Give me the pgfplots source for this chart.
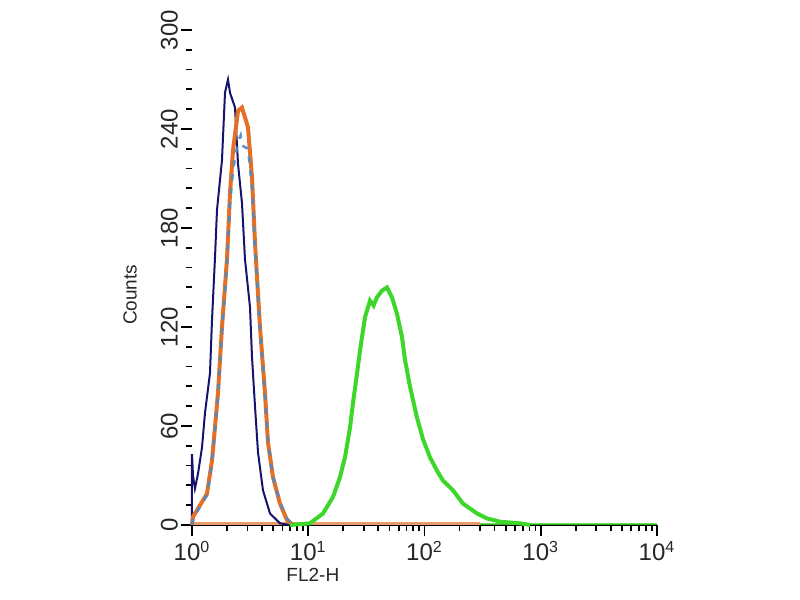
\documentclass[border=0pt]{standalone}
\usepackage{pgfplots}
\pgfplotsset{compat=1.18}
\usepackage{fontspec}
\setmainfont{Liberation Sans}
\definecolor{navyc}{RGB}{20,20,110}
\definecolor{orangec}{RGB}{228,112,40}
\definecolor{bluec}{RGB}{70,140,200}
\definecolor{greenc}{RGB}{60,215,40}
\begin{document}
\begin{tikzpicture}
\path[use as bounding box] (-96pt,-37.5pt) rectangle (304pt,262.5pt);
\begin{axis}[
  at={(0pt,0pt)}, anchor=origin,
  scale only axis, width=232.5pt, height=247.5pt,
  xmode=log, xmin=1, xmax=10000, ymin=0, ymax=300,
  axis x line*=bottom, axis y line*=left,
  axis line style={-, line width=0.9pt},
  y axis line style={draw=none},
  tick align=outside,
  major tick length=5.5pt, minor tick length=3pt,
  every tick/.style={black, line width=0.9pt},
  xtick={1,10,100,1000,10000},
  xticklabels={10\textsuperscript{0},10\textsuperscript{1},10\textsuperscript{2},10\textsuperscript{3},10\textsuperscript{4}},
  ytick={0,60,120,180,240,300},
  yticklabels={0,60,120,180,240,300},
  minor y tick num=4,
  tick label style={font=\fontsize{12}{14}\selectfont, text=black!85},
  yticklabel style={rotate=90, anchor=south},
  yticklabel shift=-2pt,
  xticklabel style={yshift=1pt},
  xlabel={FL2-H}, ylabel={Counts},
  label style={font=\fontsize{9.5}{12}\selectfont, text=black!85},
  xlabel style={at={(axis description cs:0.26,-0.101)}, anchor=center},
  ylabel style={at={(axis description cs:-0.133,0.465)}, anchor=center},
  clip=false,
]
% green baseline
\addplot[greenc, line width=1.3pt, opacity=0.8] coordinates {(1,0.6) (10000,0.6)};
% orange baseline
\addplot[orangec!70, line width=1.2pt] coordinates {(1,0.8) (300,0.8)};
% navy
\addplot[navyc, line width=1.0pt] coordinates {
(1.0,0) (1.0,43) (1.02,30) (1.06,22) (1.126,31) (1.219,47) (1.294,68) (1.428,92)
(1.486,124) (1.577,162) (1.641,191) (1.811,221) (1.923,262) (2.04,270) (2.123,262)
(2.344,253) (2.487,219) (2.692,195) (2.857,161) (3.155,132) (3.281,102) (3.483,72)
(3.697,44) (4.08,21) (4.69,7) (5.71,1) (6.97,0)};
% orange
\addplot[orangec, line width=2.0pt] coordinates {
(1,0) (1.02,5) (1.346,19) (1.486,39) (1.674,80) (1.811,120) (2.0,161) (2.123,201)
(2.253,227) (2.487,251) (2.692,253) (3.032,241) (3.281,211) (3.483,171) (3.846,120)
(4.245,80) (4.506,50) (4.976,29) (5.71,13) (6.56,3) (7.39,0)};
% blue dashed
\addplot[bluec, line width=1.3pt, dash pattern=on 3pt off 4pt, opacity=0.9] coordinates {
(1,0) (1.02,4) (1.346,18) (1.486,38) (1.674,78) (1.811,118) (2.0,158) (2.123,195)
(2.253,215) (2.487,232) (2.62,236) (2.692,230) (3.032,228) (3.281,205) (3.483,168)
(3.846,118) (4.245,79) (4.506,50) (4.976,29) (5.71,14) (6.56,4) (7.39,0)};
% green
\addplot[greenc, line width=2.0pt] coordinates {
(6.97,0) (10.35,1) (13.4,7) (16.33,17) (18.76,29) (20.7,41) (22.87,59) (24.27,74)
(26.3,92) (27.9,106) (30.8,126) (34.0,136) (36.5,133) (39.0,138) (43.1,142) (47.6,144)
(52.5,138) (58.0,128) (64.0,114) (68.0,100) (75.0,84) (86.2,65) (97.1,52) (111.5,41)
(128,33) (144,27) (176,21) (214,13) (283,7) (345,4) (446,2) (663,1) (809,0)};
\end{axis}
\end{tikzpicture}
\end{document}
